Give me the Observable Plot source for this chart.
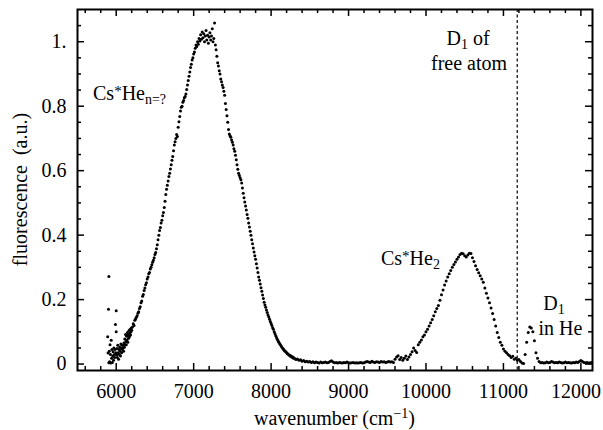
<!DOCTYPE html>
<html>
<head>
<meta charset="utf-8">
<script src="https://cdn.jsdelivr.net/npm/d3@7"></script>
<script src="https://cdn.jsdelivr.net/npm/@observablehq/plot@0.6"></script>
<style>
  html, body { margin: 0; padding: 0; background: #fff; }
  #chart svg text, #chart svg tspan { font-family: "Liberation Serif", "Times New Roman", serif; }
  #chart text { white-space: pre; }
</style>
</head>
<body>
<div id="chart"></div>
<script>
// Fluorescence spectrum of Cs in liquid/solid He: [wavenumber (cm^-1), fluorescence (a.u.)]

// noisy onset at the red end of the detector range
const onset = [
  [5890,0.085],[5895,0.034],[5900,0.170],[5905,0.272],[5905,0.004],[5910,0.040],[5915,0.007],
  [5920,0.060],[5925,0.030],[5930,0.003],[5935,0.074],[5940,0.018],[5945,0.045],[5950,0.005],
  [5955,0.025],[5960,0.038],[5965,0.012],[5970,0.050],[5975,0.030],[5980,0.020],[5985,0.045],
  [5990,0.123],[5995,0.035],[6000,0.165],[6000,0.100],[6005,0.028],[6010,0.048],[6015,0.020],
  [6020,0.058],[6025,0.035],[6030,0.015],[6035,0.045],[6040,0.030],[6045,0.052],[6050,0.040],
  [6055,0.025],[6060,0.062],[6065,0.048],[6070,0.035],[6075,0.058],[6080,0.045],[6085,0.058],
  [6090,0.050],[6095,0.040],[6100,0.065],[6105,0.052],[6110,0.078],[6115,0.060],[6120,0.092],
  [6125,0.070],[6130,0.060],[6135,0.086],[6140,0.075],[6145,0.098],[6150,0.068],[6155,0.090],
  [6160,0.080],[6165,0.104],[6170,0.085],[6175,0.095],[6180,0.108],[6185,0.090],[6190,0.100],
  [6195,0.112],[6200,0.105],[6210,0.115],[6220,0.125],[6230,0.120],[6240,0.136],[6250,0.140]
];

// Cs*He_n band
const mainBand = [
  [6260,0.145],[6270,0.150],[6280,0.158],[6290,0.162],[6300,0.172],[6310,0.178],[6320,0.190],
  [6330,0.196],[6340,0.210],[6350,0.216],[6360,0.228],[6370,0.236],[6380,0.246],[6390,0.252],
  [6400,0.264],[6410,0.270],[6420,0.280],[6430,0.284],[6440,0.295],[6450,0.300],[6460,0.308],
  [6470,0.316],[6480,0.322],[6490,0.330],[6500,0.340],[6510,0.346],[6520,0.358],[6530,0.370],
  [6540,0.386],[6550,0.400],[6560,0.414],[6570,0.424],[6580,0.438],[6590,0.446],[6600,0.460],
  [6610,0.470],[6620,0.486],[6630,0.505],[6640,0.526],[6650,0.542],[6660,0.555],[6670,0.568],
  [6680,0.582],[6690,0.592],[6700,0.605],[6710,0.618],[6720,0.632],[6730,0.644],[6740,0.662],
  [6750,0.680],[6760,0.690],[6770,0.700],[6780,0.712],[6790,0.706],[6800,0.735],[6810,0.752],
  [6820,0.768],[6830,0.785],[6840,0.797],[6850,0.800],[6860,0.812],[6870,0.818],[6880,0.826],
  [6890,0.830],[6900,0.838],[6910,0.852],[6920,0.866],[6930,0.880],[6940,0.893],[6950,0.906],
  [6960,0.920],[6970,0.930],[6980,0.943],[6990,0.950],[7000,0.962],[7010,0.968],[7020,0.980],
  [7030,0.990],[7040,0.985],[7050,1.000],[7060,0.992],[7070,1.010],[7080,1.002],[7090,1.022],
  [7100,1.008],[7110,1.030],[7120,1.012],[7130,1.025],[7140,1.000],[7150,1.018],[7160,1.035],
  [7170,1.005],[7180,1.020],[7190,0.995],[7200,1.015],[7210,1.028],[7220,1.005],[7230,1.018],
  [7240,1.040],[7250,1.000],[7260,1.010],[7270,1.058],[7280,0.990],[7290,0.975],[7300,0.955],
  [7310,0.935],[7320,0.925],[7330,0.910],[7340,0.900],[7350,0.884],[7360,0.876],[7370,0.866],
  [7380,0.858],[7390,0.846],[7400,0.834],[7410,0.808],[7420,0.790],[7430,0.770],[7440,0.750],
  [7450,0.728],[7460,0.714],[7470,0.708],[7480,0.704],[7490,0.695],[7500,0.688],[7510,0.680],
  [7520,0.668],[7530,0.660],[7540,0.648],[7550,0.634],[7560,0.618],[7570,0.604],[7580,0.592],
  [7590,0.585],[7600,0.578],[7610,0.572],[7620,0.562],[7630,0.546],[7640,0.530],[7650,0.516],
  [7660,0.503],[7670,0.490],[7680,0.478],[7690,0.464],[7700,0.452],[7710,0.438],[7720,0.425],
  [7730,0.412],[7740,0.400],[7750,0.386],[7760,0.373],[7770,0.360],[7780,0.348],[7790,0.336],
  [7800,0.325],[7810,0.311],[7820,0.298],[7830,0.284],[7840,0.270],[7850,0.260],[7860,0.248],
  [7870,0.237],[7880,0.226],[7890,0.214],[7900,0.203],[7910,0.192],[7920,0.183],[7930,0.176],
  [7940,0.168],[7950,0.160],[7960,0.152],[7970,0.146],[7980,0.139],[7990,0.132],[8000,0.126],
  [8010,0.120],[8020,0.113],[8030,0.108],[8040,0.100],[8050,0.094],[8060,0.088],[8070,0.082],
  [8080,0.077],[8090,0.072],[8100,0.068],[8110,0.063],[8120,0.060],[8130,0.056],[8140,0.052],
  [8150,0.048],[8160,0.046],[8170,0.043],[8180,0.040],[8190,0.038],[8200,0.035],[8210,0.032],
  [8220,0.031],[8230,0.028],[8240,0.027],[8250,0.024],[8260,0.025],[8270,0.021],[8280,0.022],
  [8290,0.018],[8300,0.019],[8320,0.014],[8340,0.016],[8360,0.012],[8380,0.013],[8400,0.009],
  [8420,0.011],[8440,0.007],[8460,0.009],[8480,0.006],[8500,0.008]
];

// flat background between the two bands
const gap = [
  [8520,0.005],[8540,0.007],[8560,0.004],[8580,0.006],[8600,0.005],[8620,0.003],[8640,0.006],
  [8660,0.004],[8680,0.005],[8700,0.006],[8720,0.004],[8740,0.005],[8760,0.008],[8780,0.010],
  [8800,0.006],[8820,0.004],[8840,0.005],[8860,0.003],[8880,0.005],[8900,0.004],[8920,0.003],
  [8940,0.005],[8960,0.004],[8980,0.006],[9000,0.004],[9020,0.003],[9040,0.004],[9060,0.005],
  [9080,0.003],[9100,0.004],[9120,0.003],[9140,0.004],[9160,0.005],[9180,0.003],[9200,0.004],
  [9220,0.006],[9240,0.008],[9260,0.006],[9280,0.005],[9300,0.009],[9320,0.006],[9340,0.005],
  [9360,0.007],[9380,0.006],[9400,0.005],[9420,0.008],[9440,0.006],[9460,0.007],[9480,0.005],
  [9500,0.006],[9520,0.008],[9540,0.006],[9560,0.007],[9580,0.005]
];

// Cs*He2 exciplex band
const dimerBand = [
  [9600,0.015],[9620,0.022],[9640,0.026],[9660,0.014],[9680,0.020],[9700,0.012],[9720,0.018],
  [9740,0.025],[9760,0.014],[9780,0.022],[9800,0.030],[9820,0.038],[9840,0.050],[9860,0.042],
  [9880,0.036],[9900,0.060],[9920,0.068],[9940,0.075],[9960,0.085],[9980,0.090],[10000,0.100],
  [10020,0.108],[10040,0.118],[10060,0.128],[10080,0.138],[10100,0.150],[10120,0.162],
  [10140,0.172],[10160,0.182],[10180,0.198],[10200,0.215],[10220,0.230],[10240,0.245],
  [10260,0.258],[10280,0.270],[10300,0.280],[10320,0.290],[10340,0.300],[10360,0.309],
  [10380,0.317],[10400,0.325],[10420,0.332],[10440,0.340],[10460,0.344],[10480,0.342],
  [10500,0.336],[10520,0.332],[10540,0.338],[10560,0.344],[10580,0.343],[10600,0.330],
  [10620,0.318],[10640,0.305],[10660,0.293],[10680,0.283],[10700,0.274],[10720,0.264],
  [10740,0.254],[10760,0.236],[10780,0.220],[10800,0.205],[10820,0.190],[10840,0.174],
  [10860,0.157],[10880,0.138],[10900,0.118],[10920,0.098],[10940,0.082],[10960,0.068],
  [10980,0.058],[11000,0.047],[11020,0.040],[11040,0.035],[11060,0.030],[11080,0.026],
  [11100,0.020],[11120,0.024],[11140,0.015],[11160,0.018],[11180,0.012],[11200,0.014],
  [11220,0.008],[11240,0.003],[11260,0.002]
];

// D1 line of Cs in He
const atomicLine = [
  [11280,0.030],[11300,0.068],[11320,0.098],[11340,0.115],[11360,0.112],[11380,0.100],
  [11400,0.072],[11420,0.035],[11440,0.018],[11460,0.008],[11480,0.004]
];

// blue end of the spectrum
const blueTail = [
  [11500,0.005],[11520,0.003],[11540,0.004],[11560,0.006],[11580,0.004],[11600,0.005],
  [11620,0.008],[11640,0.006],[11660,0.004],[11680,0.005],[11700,0.004],[11720,0.006],
  [11740,0.005],[11760,0.003],[11780,0.004],[11800,0.006],[11820,0.004],[11840,0.005],
  [11860,0.004],[11880,0.003],[11900,0.005],[11920,0.004],[11940,0.006],[11960,0.005],
  [11980,0.008],[12000,0.011],[12020,0.008],[12040,0.005],[12060,0.004],[12080,0.005],
  [12100,0.003],[12120,0.004],[12140,0.005]
];

// D1 transition of the free Cs atom (cm^-1)
const freeAtomD1 = 11178;

// axis ticks and labels
const wavenumberTicks = [6000, 7000, 8000, 9000, 10000, 11000, 12000];
const fluorescenceTicks = [0, 0.2, 0.4, 0.6, 0.8, 1];
const fluorescenceTickLabels = ["0", "0.2", "0.4", "0.6", "0.8", "1."];

// band labels, anchored in data coordinates; runs marked "sup"/"sub" are raised/lowered
const bandLabels = [
  {x: 5707, y: 0.818, anchor: "start", runs: [["Cs", ""], ["*", "sup"], ["He", ""], ["n=?", "sub"]]},
  {x: 9425, y: 0.306, anchor: "start", runs: [["Cs", ""], ["*", "sup"], ["He", ""], ["2", "sub"]]},
  {x: 10549, y: 0.988, anchor: "middle", runs: [["D", ""], ["1", "sub"], [" of", ""]]},
  {x: 10562, y: 0.911, anchor: "middle", runs: [["free atom", ""]]},
  {x: 11659, y: 0.166, anchor: "middle", runs: [["D", ""], ["1", "sub"]]},
  {x: 11743, y: 0.089, anchor: "middle", runs: [["in He", ""]]}
];

const spectrum = [...onset, ...mainBand, ...gap, ...dimerBand, ...atomicLine, ...blueTail]
  .map(([w, f]) => ({wavenumber: w, fluorescence: f}));

const W = 603, H = 430;
const mL = 77, mR = 11, mT = 9, mB = 60;
const innerW = W - mL - mR, innerH = H - mT - mB;
const major = 7, minor = 4;
const serif = "Liberation Serif";

const xMinor = d3.range(5600, 12001, 200).filter(v => !wavenumberTicks.includes(v));
const yMinor = d3.range(1, 22).map(i => +(i * 0.05).toFixed(2)).filter(v => !fluorescenceTicks.includes(v));

const tickStyle = {stroke: "black", strokeWidth: 1.5};

const plot = Plot.plot({
  width: W,
  height: H,
  marginLeft: mL,
  marginRight: mR,
  marginTop: mT,
  marginBottom: mB,
  style: {fontSize: "20px", color: "black", background: "white"},
  x: {
    domain: [5500, 12150],
    ticks: wavenumberTicks,
    tickSize: 0,
    tickPadding: 13,
    tickFormat: d => String(d),
    label: null
  },
  y: {
    domain: [-0.02, 1.1],
    ticks: fluorescenceTicks,
    tickSize: 0,
    tickPadding: 11,
    tickFormat: d => fluorescenceTickLabels[fluorescenceTicks.indexOf(d)],
    label: null
  },
  marks: [
    Plot.ruleX([freeAtomD1], {stroke: "black", strokeWidth: 1.2, strokeDasharray: "3,2.5"}),
    Plot.dot(spectrum, {x: "wavenumber", y: "fluorescence", r: 1.5, fill: "black"}),
    // inward ticks on all four sides
    Plot.ruleX(wavenumberTicks, {...tickStyle, insetTop: innerH - major}),
    Plot.ruleX(wavenumberTicks, {...tickStyle, insetBottom: innerH - major}),
    Plot.ruleX(xMinor, {...tickStyle, insetTop: innerH - minor}),
    Plot.ruleX(xMinor, {...tickStyle, insetBottom: innerH - minor}),
    Plot.ruleY(fluorescenceTicks, {...tickStyle, insetRight: innerW - major}),
    Plot.ruleY(fluorescenceTicks, {...tickStyle, insetLeft: innerW - major}),
    Plot.ruleY(yMinor, {...tickStyle, insetRight: innerW - minor}),
    Plot.ruleY(yMinor, {...tickStyle, insetLeft: innerW - minor}),
    Plot.frame({stroke: "black", strokeWidth: 2})
  ]
});

document.getElementById("chart").append(plot);

const svg = d3.select(plot.tagName.toLowerCase() === "svg" ? plot : plot.querySelector("svg"));
svg.selectAll("text").style("font-family", serif);
// keep the last wavenumber label inside the page edge
svg.selectAll("text").filter(function () { return this.textContent === "12000"; }).attr("dx", -5);

const sx = plot.scale("x"), sy = plot.scale("y");
const fx = sx.apply ? sx.apply : d3.scaleLinear(sx.domain, sx.range);
const fy = sy.apply ? sy.apply : d3.scaleLinear(sy.domain, sy.range);

const shiftOf = {sup: -4, sub: 4, "": 0};
const sizeOf = {sup: 15, sub: 14};

function writeRuns(text, runs) {
  let shift = 0;
  for (const [s, kind] of runs) {
    const target = shiftOf[kind];
    const ts = text.append("tspan").attr("dy", target - shift).text(s);
    if (kind) ts.attr("font-size", sizeOf[kind]);
    shift = target;
  }
}

const notes = svg.append("g")
  .attr("fill", "black")
  .attr("font-size", 20)
  .style("font-family", serif);

for (const n of bandLabels) {
  const t = notes.append("text")
    .attr("x", fx(n.x))
    .attr("y", fy(n.y))
    .attr("text-anchor", n.anchor)
    .style("font-family", serif);
  writeRuns(t, n.runs);
}

// axis titles
const [xr0, xr1] = sx.range;
const [yr0, yr1] = sy.range;
const xTitle = notes.append("text")
  .attr("x", (xr0 + xr1) / 2)
  .attr("y", Math.max(yr0, yr1) + 55)
  .attr("text-anchor", "middle")
  .style("font-family", serif);
writeRuns(xTitle, [["wavenumber (cm", ""], ["\u22121", "sup"], [")", ""]]);
xTitle.selectAll("tspan").filter((d, i) => i === 1).attr("dy", -7).attr("font-size", 14);
xTitle.selectAll("tspan").filter((d, i) => i === 2).attr("dy", 7);

notes.append("text")
  .attr("transform", `translate(26.5,${(yr0 + yr1) / 2}) rotate(-90)`)
  .attr("text-anchor", "middle")
  .style("font-family", serif)
  .text("fluorescence  (a.u.)");
</script>
</body>
</html>
